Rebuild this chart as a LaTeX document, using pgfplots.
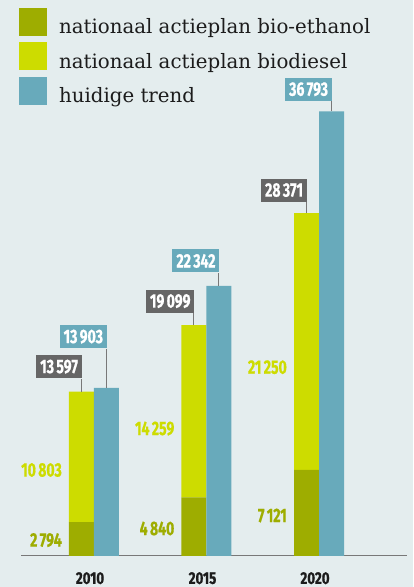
\documentclass[border=0pt]{standalone}
\usepackage{pgfplots}
\pgfplotsset{compat=1.18}
\usepackage{fontspec}
\setmainfont{DejaVu Serif}
\newfontfamily\numfont[FakeStretch=0.72, BoldFeatures={FakeBold=0.6}]{Fira Sans}
\newfontfamily\yearfont[FakeStretch=0.78, BoldFeatures={FakeBold=0.8}]{Fira Sans}
\definecolor{bg}{RGB}{228,237,238}
\definecolor{olive}{RGB}{158,173,0}
\definecolor{lime}{RGB}{205,220,0}
\definecolor{trend}{RGB}{104,170,187}
\definecolor{boxgray}{RGB}{102,102,102}
\definecolor{linegray}{RGB}{120,120,120}
\definecolor{axisgray}{RGB}{120,120,120}
\definecolor{textdark}{RGB}{28,28,28}
\newcommand\ts{\hspace{0.12em}}
\newcommand\vfont{\numfont\bfseries\fontsize{19.5}{19.5}\selectfont}
\newcommand\valbox[6]{%
  \draw[linegray, line width=1pt] ([xshift=#3]axis cs:#1,#2) -- ++(0pt,#4)
    node[anchor=south east, xshift=1pt, fill=#5, text=white, inner xsep=4pt, inner ysep=0pt,
         minimum height=23pt, font=\vfont] {#6};%
}
\newcommand\seglabel[4]{%
  \node[anchor=east, inner sep=0pt, text=#3, font=\vfont] at ([xshift=-32pt]axis cs:#1,#2) {#4};%
}
\pgfplotsset{
  basegeom/.style={
    scale only axis, width=386pt, height=556pt,
    at={(21pt,31pt)}, anchor=south west,
    xmin=2006.756, xmax=2023.911, ymin=0, ymax=46000,
    clip=false,
  }
}
\begin{document}
\begin{tikzpicture}
\fill[bg] (0pt,0pt) rectangle (413pt,587pt);
\begin{axis}[
  basegeom,
  axis x line*=bottom, axis y line=none,
  x axis line style={-, draw=axisgray, line width=1pt},
  xtick={2010,2015,2020}, xticklabels={2010,2015,2020},
  major tick length=0pt,
  xticklabel style={font=\yearfont\bfseries\fontsize{17}{17}\selectfont, text=textdark, inner sep=0pt, xshift=-4pt, yshift=-16pt},
  ytick=\empty,
  ybar stacked, bar width=25pt,
  legend style={at={(-0.00518,0.98561)}, anchor=north west, draw=none, fill=none,
    inner sep=0pt, outer sep=0pt, row sep=6.5pt,
    font=\fontsize{19.8}{19.8}\selectfont, text=textdark,
    nodes={inner sep=0pt, text=textdark},
    /tikz/every odd column/.append style={column sep=12pt}},
  legend image code/.code={\fill[#1] (0pt,-9pt) rectangle (28pt,19pt);},
  legend cell align=left,
]
\addplot[fill=olive, draw=none, bar shift=-12.5pt] coordinates {(2010,2794) (2015,4840) (2020,7121)};
\addlegendentry{nationaal actieplan bio-ethanol}
\addplot[fill=lime, draw=none, bar shift=-12.5pt] coordinates {(2010,10803) (2015,14259) (2020,21250)};
\addlegendentry{nationaal actieplan biodiesel}
\addlegendimage{fill=trend, draw=none}
\addlegendentry{huidige trend}
\end{axis}
\begin{axis}[
  basegeom, hide axis,
  ybar, bar width=25pt,
]
\addplot[fill=trend, draw=none, bar shift=12.5pt] coordinates {(2010,13903) (2015,22342) (2020,36793)};
% segment labels
\seglabel{2010}{1313}{olive}{2\ts794}
\seglabel{2010}{7115}{lime}{10\ts803}
\seglabel{2015}{2275}{olive}{4\ts840}
\seglabel{2015}{10544}{lime}{14\ts259}
\seglabel{2020}{3347}{olive}{7\ts121}
\seglabel{2020}{15621}{lime}{21\ts250}
% total and trend labels
\valbox{2010}{13597}{-12.5pt}{13pt}{boxgray}{13\ts597}
\valbox{2010}{13903}{12.5pt}{39.3pt}{trend}{13\ts903}
\valbox{2015}{19099}{-12.5pt}{12pt}{boxgray}{19\ts099}
\valbox{2015}{22342}{12.5pt}{13pt}{trend}{22\ts342}
\valbox{2020}{28371}{-12.5pt}{11pt}{boxgray}{28\ts371}
\valbox{2020}{36793}{12.5pt}{10pt}{trend}{36\ts793}
\end{axis}
\pgfresetboundingbox
\path[use as bounding box] (0pt,0pt) rectangle (413pt,587pt);
\end{tikzpicture}
\end{document}
